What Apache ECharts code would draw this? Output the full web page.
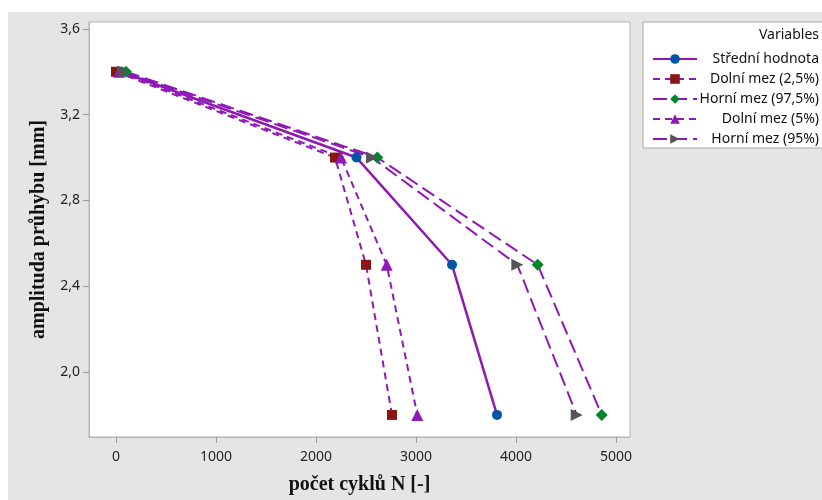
<!DOCTYPE html>
<html>
<head>
<meta charset="utf-8">
<script src="https://cdn.jsdelivr.net/npm/echarts@6/dist/echarts.min.js"></script>
<style>
  html, body { margin: 0; padding: 0; background: #fff; }
  #chart { width: 822px; height: 500px; }
</style>
</head>
<body>
<div id="chart"></div>
<script>
// values: [pocet cyklu, amplituda]
var levels = [3.4, 3.0, 2.5, 1.8]
var stredni = [50, 2405, 3360, 3810]
var dolni25 = [0, 2190, 2500, 2760]
var horni975 = [100, 2613, 4217, 4857]
var dolni5 = [30, 2250, 2707, 3013]
var horni95 = [70, 2560, 4013, 4607]

var xTicks = [0, 1000, 2000, 3000, 4000, 5000]
var yTicks = [2.0, 2.4, 2.8, 3.2, 3.6]

var purple = '#8f19b5'
var font = 'Noto Sans'
var frame = '#b4b4b4'

function pts(xs) {
  return xs.map(function (x, i) { return [x, levels[i]] })
}

var chart = echarts.init(document.getElementById('chart'))

var defs = [
  { name: 'Střední hodnota', data: stredni, symbol: 'circle', color: '#0055a5', dash: 'solid', width: 2.5, size: 10 },
  { name: 'Dolní mez (2,5%)', data: dolni25, symbol: 'rect', color: '#8b1414', dash: [7, 5], width: 2, size: 10 },
  { name: 'Horní mez (97,5%)', data: horni975, symbol: 'diamond', color: '#00852c', dash: [14, 6], width: 2, size: 12 },
  { name: 'Dolní mez (5%)', data: dolni5, symbol: 'triangle', color: purple, dash: [7, 5], width: 2, size: 12 },
  { name: 'Horní mez (95%)', data: horni95, symbol: 'triangle', color: '#555555', dash: [14, 6], width: 2, size: 12, rotate: -90 }
]

var series = defs.map(function (d) {
  return {
    name: d.name,
    type: 'line',
    data: pts(d.data),
    symbol: d.symbol,
    symbolSize: d.size,
    symbolRotate: d.rotate || 0,
    showAllSymbol: true,
    itemStyle: { color: d.color, opacity: 1 },
    lineStyle: { color: purple, width: d.width, type: d.dash },
    emphasis: { disabled: true },
    animation: false
  }
})

var option = {
  backgroundColor: '#ffffff',
  animation: false,
  graphic: [
    {
      type: 'rect', z: -10, silent: true,
      shape: { x: 8, y: 12, width: 814, height: 488 },
      style: { fill: '#e5e5e5' }
    },
    {
      type: 'rect', z: -5, silent: true,
      shape: { x: 643, y: 22, width: 190, height: 126 },
      style: { fill: '#ffffff', stroke: '#a8a8a8', lineWidth: 1 }
    },
    {
      type: 'text', silent: true,
      style: { x: 819, y: 35, text: 'Variables', fill: '#111', font: '14px "Noto Sans"', textAlign: 'right', textVerticalAlign: 'middle' }
    }
  ],
  grid: {
    left: 89, top: 22, right: 192, bottom: 60,
    show: true, backgroundColor: '#ffffff', borderColor: frame, borderWidth: 1
  },
  legend: {
    orient: 'vertical',
    left: 647,
    top: 46,
    itemWidth: 44,
    itemHeight: 12,
    itemGap: 4,
    itemStyle: { opacity: 1 },
    data: defs.map(function (d) { return d.name }),
    formatter: function (name) { return '{t|' + name + '}' },
    textStyle: {
      fontFamily: font, fontSize: 14, color: '#111', lineHeight: 16,
      rich: { t: { width: 117, align: 'right', fontFamily: font, fontSize: 14, color: '#111', lineHeight: 16 } }
    },
    selectedMode: false
  },
  xAxis: {
    type: 'value',
    position: 'bottom',
    min: -270,
    max: 5140,
    name: 'počet cyklů N [-]',
    nameLocation: 'middle',
    nameGap: 38,
    nameTextStyle: { fontFamily: 'Liberation Serif', fontWeight: 'bold', fontSize: 20, color: '#111' },
    axisLine: { show: true, onZero: false, lineStyle: { color: frame } },
    axisTick: { show: true, customValues: xTicks, length: 6, lineStyle: { color: '#999' } },
    axisLabel: {
      customValues: xTicks, margin: 13, fontFamily: font, fontSize: 14, color: '#222',
      formatter: function (v) { return String(v) }
    },
    splitLine: { show: false }
  },
  yAxis: {
    type: 'value',
    position: 'left',
    min: 1.697,
    max: 3.632,
    name: 'amplituda průhybu [mm]',
    nameLocation: 'middle',
    nameGap: 40,
    nameTextStyle: { fontFamily: 'Liberation Serif', fontWeight: 'bold', fontSize: 20, color: '#111' },
    axisLine: { show: true, onZero: false, lineStyle: { color: frame } },
    axisTick: { show: true, customValues: yTicks, length: 6, lineStyle: { color: '#999' } },
    axisLabel: {
      customValues: yTicks, margin: 9, fontFamily: font, fontSize: 14, color: '#222',
      formatter: function (v) { return v.toFixed(1).replace('.', ',') }
    },
    splitLine: { show: false }
  },
  series: series
}

chart.setOption(option)
</script>
</body>
</html>
